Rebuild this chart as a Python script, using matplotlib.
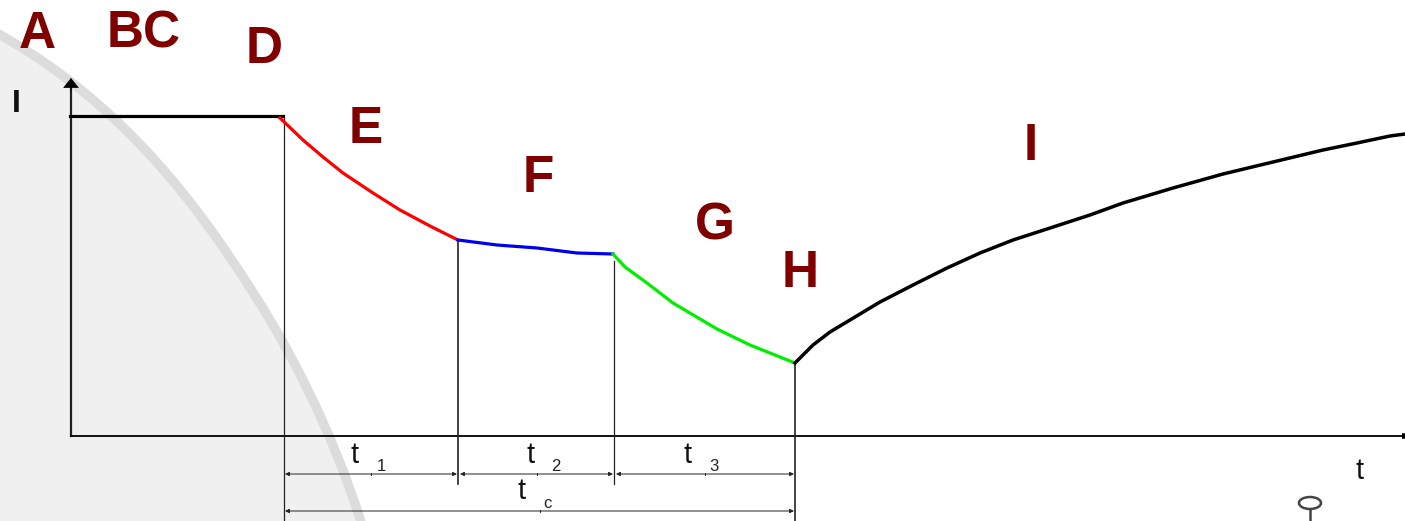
import matplotlib
matplotlib.use('Agg')
import matplotlib.pyplot as plt
from matplotlib.patches import Ellipse, PathPatch
from matplotlib.path import Path

plt.rcParams['font.family'] = ['Liberation Sans', 'DejaVu Sans']

# Curves in pixel coordinates
flat_x = [70, 283]
flat_y = [116, 116]
e_x = [280, 303, 323, 343, 373, 400, 430, 458]
e_y = [118, 140, 157, 173, 193, 210, 226, 240]
f_x = [458, 497, 537, 577, 613]
f_y = [240, 245, 248, 253, 254]
g_x = [613, 625, 647, 673, 717, 750, 795]
g_y = [254, 267, 283, 303, 329, 345, 363]
i_x = [795, 813, 830, 850, 880, 913, 947, 980, 1013, 1047, 1090, 1123, 1173, 1223, 1273, 1323, 1357, 1390, 1405]
i_y = [363, 345, 332, 320, 302, 285, 268, 253, 240, 229, 215, 203, 188, 174, 162, 150, 143, 136, 134]

# Grey arc in the background, two bezier pieces
arc_pts = [(-5, 32), (90, 84), (167, 162), (233, 262), (290, 345), (333, 433), (362, 525)]

# Vertical markers and spans
v_x = [284, 458, 614, 795]
v_top = [118, 242, 261, 364]
v_bottom = [521, 484, 484, 521]
span_left = [285, 460, 616, 285]
span_right = [457, 613, 794, 794]
span_y = [474, 474, 474, 511]
span_tick = [371, 537, 705, 540]

# Labels
letters = ['A', 'BC', 'D', 'E', 'F', 'G', 'H', 'I']
letter_x = [37.5, 144, 264, 366, 538, 715, 800, 1031]
letter_y = [48, 47, 63, 143, 192, 240, 287, 160]
t_x = [355, 531, 688, 522]
t_y = [463, 463, 463, 499]
sub_labels = ['1', '2', '3', 'c']
sub_x = [381, 556, 714, 547]
sub_y = [471, 471, 471, 508]

maroon = '#800000'

fig = plt.figure(figsize=(14.05, 5.21), dpi=100)
ax = fig.add_axes([0, 0, 1, 1])
ax.set_xlim(0, 1405)
ax.set_ylim(521, 0)
ax.axis('off')

# background arc, fill first and then the band
arc_codes = [Path.MOVETO] + [Path.CURVE4] * 6
fill_path = Path(arc_pts + [(-5, 525), (-5, 32)], arc_codes + [Path.LINETO, Path.CLOSEPOLY])
ax.add_patch(PathPatch(fill_path, fc='#f0f0f0', ec='none', zorder=1))
ax.add_patch(PathPatch(Path(arc_pts, arc_codes), fc='none', ec='#dcdcdc', lw=6.8, zorder=2))

# axes with arrows
ax.plot([71, 71], [436, 85], color='#222222', lw=1.6, zorder=3)
ax.annotate('', xy=(71, 78), xytext=(71, 92),
            arrowprops=dict(arrowstyle='-|>,head_length=0.5,head_width=0.4', color='black', lw=0.5,
                            mutation_scale=13, shrinkA=0, shrinkB=0), zorder=4)
ax.plot([71, 1405], [436, 436], color='#111111', lw=1.4, zorder=3)
ax.plot([1402, 1405], [436, 436], color='black', lw=4, solid_capstyle='butt', zorder=4)

# verticals
for x, top, bottom in zip(v_x, v_top, v_bottom):
    lw = 0.9 if x in (284, 614) else 1.2
    ax.plot([x, x], [top, bottom], color='#222222', lw=lw, zorder=3)

# dimension arrows
for left, right, y, tick in zip(span_left, span_right, span_y, span_tick):
    ax.annotate('', xy=(right, y), xytext=(left, y),
                arrowprops=dict(arrowstyle='<|-|>', color='#222222', lw=0.7, mutation_scale=6,
                                shrinkA=0, shrinkB=0), zorder=4)
    ax.plot([tick, tick], [y - 1, y + 1], color='#222222', lw=0.7, zorder=4)

# curve segments
ax.plot(flat_x, flat_y, color='black', lw=2.3, zorder=5)
ax.plot(e_x, e_y, color='#ff0000', lw=2.3, zorder=5)
ax.plot(f_x, f_y, color='#0000ee', lw=2.3, zorder=5)
ax.plot(g_x, g_y, color='#00ee00', lw=2.3, zorder=5)
ax.plot(i_x, i_y, color='black', lw=2.5, zorder=5)

# letters
for s, x, y in zip(letters, letter_x, letter_y):
    ax.text(x, y, s, color=maroon, fontsize=37, fontweight='bold', ha='center', va='baseline', zorder=6)

ax.text(16, 112, 'I', color='#111111', fontsize=23, fontweight='bold', ha='center', va='baseline', zorder=6)
ax.text(1360, 479, 't', color='#111111', fontsize=21, ha='center', va='baseline', zorder=6)

for x, y in zip(t_x, t_y):
    ax.text(x, y, 't', color='#111111', fontsize=21, ha='center', va='baseline', zorder=6)
for s, x, y in zip(sub_labels, sub_x, sub_y):
    ax.text(x, y, s, color='#222222', fontsize=12, ha='center', va='baseline', zorder=6)

# small pin at the lower right
ax.add_patch(Ellipse((1310, 503), 22, 12, fill=False, ec='#444444', lw=1.8, zorder=6))
ax.plot([1310, 1310], [509, 521], color='#444444', lw=1.8, zorder=6)

fig.savefig('out.png', dpi=100)
